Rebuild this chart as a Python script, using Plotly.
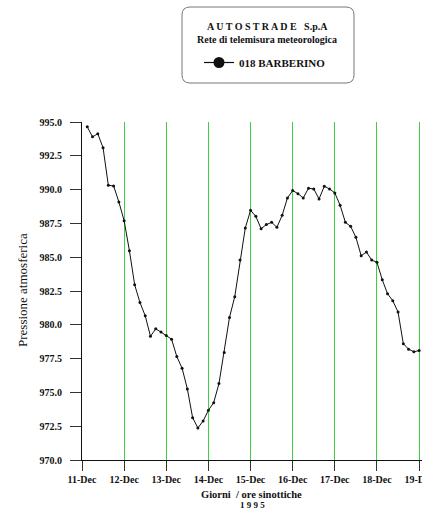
import pandas as pd
import plotly.graph_objects as go

# ---- data (3-hourly synoptic readings, hPa) ----
start_time = "1995-12-11 03:00"
pressure = [
    994.64, 993.90, 994.13, 993.09, 990.32, 990.27, 989.09, 987.70,
    985.48, 982.96, 981.65, 980.67, 979.15, 979.70, 979.46, 979.21,
    978.94, 977.65, 976.79, 975.26, 973.13, 972.37, 972.89, 973.68,
    974.24, 975.65, 977.95, 980.54, 982.08, 984.80, 987.16, 988.47,
    988.02, 987.11, 987.41, 987.58, 987.21, 988.10, 989.38, 989.93,
    989.70, 989.38, 990.10, 990.05, 989.31, 990.25, 990.05, 989.75,
    988.84, 987.58, 987.28, 986.47, 985.11, 985.38, 984.79, 984.62,
    983.33, 982.30, 981.78, 980.94, 978.60, 978.20, 978.00, 978.10,
]
times = pd.date_range(start_time, periods=len(pressure), freq="3h")

day_ticks = pd.date_range("1995-12-11", "1995-12-19", freq="D")
y_ticks = [970.0, 972.5, 975.0, 977.5, 980.0, 982.5, 985.0, 987.5, 990.0, 992.5, 995.0]

station_name = "018 BARBERINO"
header_1 = "A U T O S T R A D E   S.p.A"
header_2 = "Rete di telemisura meteorologica"
y_title = "Pressione atmosferica"
x_title = "Giorni  / ore sinottiche"
year_label = "1 9 9 5"

# ---- layout geometry (screen pixels; body margin removed below) ----
W, H = 422, 511
SL, ST, SB = 82, 122, 460          # plot left / top / bottom
L, T, B = SL, ST, H - SB
plot_w = W - L
plot_h = H - T - B

def px(x):
    return (x - SL) / plot_w

def py(y):
    return (SB - y) / plot_h

SERIF = "Liberation Serif, Times New Roman, serif"

fig = go.Figure()
fig.add_trace(go.Scatter(
    x=times, y=pressure, mode="lines+markers", name=station_name,
    showlegend=False,
    line=dict(color="#111111", width=1),
    marker=dict(color="#111111", size=3),
))
# legend entry (large dot on a thin line, as in the original key)
fig.add_trace(go.Scatter(
    x=[None], y=[None], mode="lines+markers", name=station_name,
    line=dict(color="#111111", width=1.2),
    marker=dict(color="#111111", size=11),
))

px_per_day = 42.14
x_end = pd.Timestamp("1995-12-11") + pd.Timedelta(days=(W - SL) / px_per_day)

fig.update_xaxes(
    range=[pd.Timestamp("1995-12-11"), x_end],
    tickvals=day_ticks, tickformat="%d-%b",
    ticks="outside", ticklen=10, tickcolor="#333333",
    showline=True, linecolor="#111111", linewidth=1,
    showgrid=True, gridcolor="#3dcf3d", gridwidth=1,
    zeroline=False, ticklabeloverflow="allow",
    tickfont=dict(family=SERIF, size=10, color="#111111", weight="bold"),
)
fig.update_yaxes(
    range=[970, 995], tickvals=y_ticks, tickformat=".1f",
    ticks="outside", ticklen=11, tickcolor="#333333",
    showline=True, linecolor="#111111", linewidth=1,
    showgrid=False, zeroline=False, ticklabelstandoff=6,
    tickfont=dict(family=SERIF, size=10, color="#111111", weight="bold"),
)

# rounded box for the header/legend
x0, x1, y0, y1, r = 182, 354, 7, 83, 8
path = (
    f"M {px(x0 + r)},{py(y0)} L {px(x1 - r)},{py(y0)} "
    f"Q {px(x1)},{py(y0)} {px(x1)},{py(y0 + r)} "
    f"L {px(x1)},{py(y1 - r)} Q {px(x1)},{py(y1)} {px(x1 - r)},{py(y1)} "
    f"L {px(x0 + r)},{py(y1)} Q {px(x0)},{py(y1)} {px(x0)},{py(y1 - r)} "
    f"L {px(x0)},{py(y0 + r)} Q {px(x0)},{py(y0)} {px(x0 + r)},{py(y0)} Z"
)
fig.add_shape(type="path", path=path, xref="paper", yref="paper",
              line=dict(color="#777777", width=1), fillcolor="rgba(0,0,0,0)")

def note(text, x, y, size=10, bold=True, angle=0, yanchor="middle"):
    fig.add_annotation(
        text=text, x=px(x), y=py(y), xref="paper", yref="paper",
        showarrow=False, textangle=angle, xanchor="center", yanchor=yanchor,
        font=dict(family=SERIF, size=size, color="#111111",
                  weight="bold" if bold else "normal"),
    )

note(header_1, 267, 26)
note(header_2, 267, 39.5)
note(y_title, 22, 290, size=13, bold=False, angle=-90)
note(x_title, 251, 494.5, size=10.5)
note(year_label, 252, 505, size=9)

fig.update_layout(
    width=W, height=H,
    margin=dict(l=L, r=0, t=T, b=B, autoexpand=False),
    paper_bgcolor="white", plot_bgcolor="white",
    showlegend=True,
    legend=dict(
        x=px(199), y=py(48), xanchor="left", yanchor="top",
        bgcolor="rgba(0,0,0,0)", borderwidth=0,
        font=dict(family=SERIF, size=11, color="#111111", weight="bold"),
    ),
)

fig.write_html(
    "out.html",
    config={"displayModeBar": False},
    post_script="document.body.style.margin='0';document.body.style.overflow='hidden';",
)
